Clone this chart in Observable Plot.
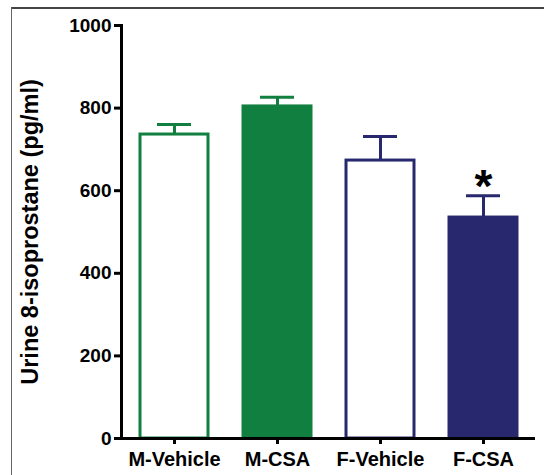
<!DOCTYPE html>
<html>
<head>
<meta charset="utf-8">
<script src="https://cdn.jsdelivr.net/npm/d3@7"></script>
<script src="https://cdn.jsdelivr.net/npm/@observablehq/plot@0.6"></script>
<style>
  html, body { margin: 0; padding: 0; background: #fff; }
  #wrap { position: relative; width: 544px; height: 475px; overflow: hidden; }
  #wrap svg { position: absolute; left: 0; top: 0; }
  #border { position: absolute; left: 11px; top: 7px; width: 540px; height: 480px;
            border-left: 1px solid #666; border-top: 2px solid #444; pointer-events: none; }
</style>
</head>
<body>
<div id="wrap"><div id="border"></div></div>
<script>
const groups = ["M-Vehicle", "M-CSA", "F-Vehicle", "F-CSA"];
const means = [736, 804, 673, 535];
const errors = [24, 22, 58, 53];
const sig = ["", "", "", "*"];
const fills = ["#ffffff", "#107f3f", "#ffffff", "#28286f"];
const strokes = ["#107f3f", "#107f3f", "#28286f", "#28286f"];
const yTicks = [0, 200, 400, 600, 800, 1000];
const yLabel = "Urine 8-isoprostane (pg/ml)";

const data = groups.map((g, i) => ({
  group: g, mean: means[i], err: errors[i], top: means[i] + errors[i],
  sig: sig[i], fill: fills[i], stroke: strokes[i]
}));

const chart = Plot.plot({
  width: 544,
  height: 475,
  marginLeft: 121,
  marginRight: 9,
  marginTop: 25,
  marginBottom: 37,
  style: { fontFamily: "'Liberation Sans', Arial, sans-serif", fontWeight: "bold", color: "#000", background: "transparent" },
  x: { domain: groups, paddingInner: 0.34, paddingOuter: 0.17, label: null },
  y: { domain: [0, 1000], label: null },
  marks: [
    Plot.ruleX(data, { x: "group", y1: "mean", y2: "top", stroke: "stroke", strokeWidth: 3 }),
    Plot.tickY(data, { x: "group", y: "top", stroke: "stroke", strokeWidth: 3, insetLeft: 17, insetRight: 17 }),
    Plot.barY(data, { x: "group", y: "mean", fill: "fill", stroke: "stroke", strokeWidth: 3 }),
    Plot.text(data, { x: "group", y: "top", text: "sig", fontSize: 46, fontWeight: "bold", lineAnchor: "bottom", dy: 6, fill: "#000" }),
    Plot.axisY({ ticks: yTicks, tickFormat: d => String(d), tickSize: 7, tickPadding: 3, fontSize: 19, strokeWidth: 3, label: null }),
    Plot.axisX({ tickSize: 6, tickPadding: 7, fontSize: 20, strokeWidth: 3, label: null }),
    Plot.frame({ anchor: "left", strokeWidth: 3, stroke: "#000" }),
    Plot.ruleY([0], { strokeWidth: 3, stroke: "#000", insetLeft: -1.5 }),
    Plot.text([yLabel], { frameAnchor: "left", text: d => d, rotate: -90, textAnchor: "middle", lineAnchor: "middle", dx: -91, fontSize: 23.5, fontWeight: "bold", fill: "#000" })
  ]
});
document.getElementById("wrap").prepend(chart);
</script>
</body>
</html>
